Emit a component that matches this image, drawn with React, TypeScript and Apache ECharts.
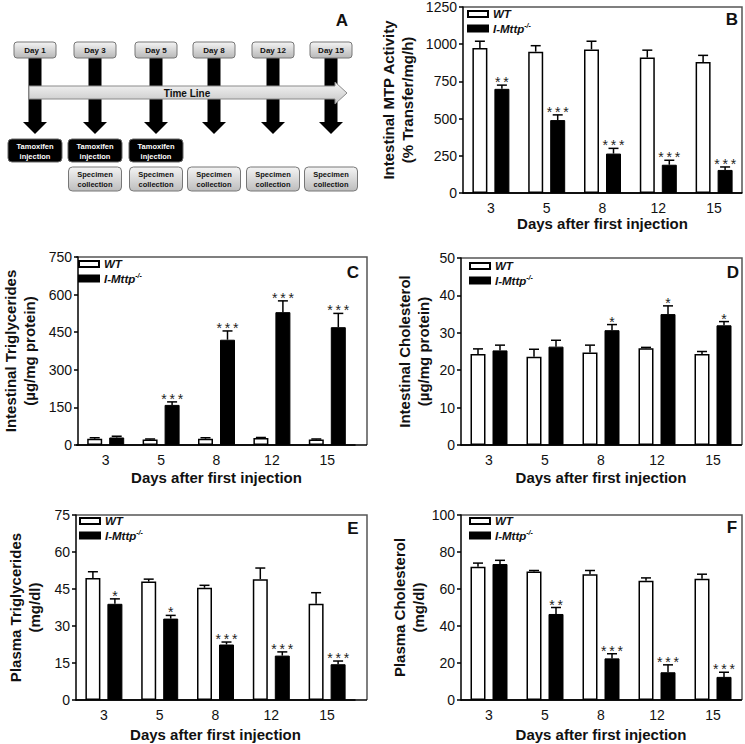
import React, { useEffect, useRef } from 'react';
import * as echarts from 'echarts';

// ---------- data ----------
const days = ['3', '5', '8', '12', '15'];
const legendNames = ['WT', 'I-Mttp'];

// B: Intestinal MTP activity
const mtpWT = [975, 950, 965, 910, 880];
const mtpWTErr = [45, 40, 55, 50, 45];
const mtpKO = [700, 490, 265, 190, 155];
const mtpKOErr = [25, 35, 35, 30, 20];
const mtpStars = ['**', '***', '***', '***', '***'];

// C: Intestinal triglycerides
const itgWT = [25, 22, 25, 28, 22];
const itgWTErr = [4, 2, 4, 2, 2];
const itgKO = [30, 160, 420, 530, 470];
const itgKOErr = [5, 12, 35, 45, 55];
const itgStars = ['', '***', '***', '***', '***'];

// D: Intestinal cholesterol
const icWT = [24.3, 23.6, 24.7, 25.9, 24.3];
const icWTErr = [1.4, 2.0, 2.0, 0.2, 0.7];
const icKO = [25.3, 26.3, 30.7, 35, 32];
const icKOErr = [1.4, 1.7, 1.5, 2.2, 1.0];
const icStars = ['', '', '*', '*', '*'];

// E: Plasma triglycerides
const ptgWT = [49.5, 48, 45.5, 49, 39];
const ptgWTErr = [2.5, 1, 1, 4.5, 4.5];
const ptgKO = [39, 33, 22.5, 18, 14.5];
const ptgKOErr = [2, 1.3, 1, 1.5, 1.3];
const ptgStars = ['*', '*', '***', '***', '***'];

// F: Plasma cholesterol
const pcWT = [72, 69.5, 68, 64.5, 65.5];
const pcWTErr = [2, 0.5, 2, 1.5, 2.5];
const pcKO = [73.5, 46.5, 22.5, 15, 12.5];
const pcKOErr = [2, 3.5, 2.5, 4, 2.5];
const pcStars = ['', '**', '***', '***', '***'];

// Panel A timeline
const timelineDays = ['Day 1', 'Day 3', 'Day 5', 'Day 8', 'Day 12', 'Day 15'];
const injectionDays = ['Day 1', 'Day 3', 'Day 5'];
const collectionDays = ['Day 3', 'Day 5', 'Day 8', 'Day 12', 'Day 15'];

const FONT = '"Liberation Sans", Arial, Helvetica, sans-serif';

type Panel = {
  letter: string;
  grid: { left: number; top: number; width: number; height: number };
  frameRight: number;
  max: number;
  interval: number;
  yName: string;
  nameGap: number;
  xNameGap: number;
  wt: number[];
  wtErr: number[];
  ko: number[];
  koErr: number[];
  stars: string[];
  legend: { left: number; top: number };
  letterPos: [number, number];
};

const panels: Panel[] = [
  {
    letter: 'B', grid: { left: 463, top: 7, width: 279, height: 186 }, frameRight: 742,
    max: 1250, interval: 250, yName: 'Intestinal MTP Activity\n(% Transfer/mg/h)', nameGap: 46, xNameGap: 23,
    wt: mtpWT, wtErr: mtpWTErr, ko: mtpKO, koErr: mtpKOErr, stars: mtpStars,
    legend: { left: 467, top: 8 }, letterPos: [732, 19],
  },
  {
    letter: 'C', grid: { left: 76, top: 257, width: 279, height: 188 }, frameRight: 367,
    max: 750, interval: 150, yName: 'Intestinal Triglycerides\n(µg/mg protein)', nameGap: 39, xNameGap: 25,
    wt: itgWT, wtErr: itgWTErr, ko: itgKO, koErr: itgKOErr, stars: itgStars,
    legend: { left: 78, top: 258 }, letterPos: [353, 272],
  },
  {
    letter: 'D', grid: { left: 461, top: 258, width: 280, height: 187 }, frameRight: 742,
    max: 50, interval: 10, yName: 'Intestinal Cholesterol\n(µg/mg protein)', nameGap: 28, xNameGap: 25,
    wt: icWT, wtErr: icWTErr, ko: icKO, koErr: icKOErr, stars: icStars,
    legend: { left: 469, top: 260 }, letterPos: [733, 272],
  },
  {
    letter: 'E', grid: { left: 76, top: 515, width: 279, height: 185 }, frameRight: 367,
    max: 75, interval: 15, yName: 'Plasma Triglycerides\n(mg/dl)', nameGap: 32, xNameGap: 27,
    wt: ptgWT, wtErr: ptgWTErr, ko: ptgKO, koErr: ptgKOErr, stars: ptgStars,
    legend: { left: 79, top: 515 }, letterPos: [353, 528],
  },
  {
    letter: 'F', grid: { left: 461, top: 515, width: 280, height: 185 }, frameRight: 742,
    max: 100, interval: 20, yName: 'Plasma Cholesterol\n(mg/dl)', nameGap: 29, xNameGap: 27,
    wt: pcWT, wtErr: pcWTErr, ko: pcKO, koErr: pcKOErr, stars: pcStars,
    legend: { left: 469, top: 515 }, letterPos: [732, 527],
  },
];

const BAR_W = 15;
const BAR_GAP = 7;
const OFFSET = (BAR_W + BAR_GAP) / 2;

function errSeries(gi: number, vals: number[], errs: number[], offset: number, stars?: string[]) {
  return {
    type: 'custom',
    name: 'err' + gi + (stars ? 'k' : 'w'),
    xAxisIndex: gi,
    yAxisIndex: gi,
    z: 5,
    silent: true,
    data: vals.map((v, i) => [i, v, errs[i]]),
    renderItem: (params: any, api: any) => {
      const i = api.value(0);
      const v = api.value(1);
      const e = api.value(2);
      const p0 = api.coord([i, v]);
      const p1 = api.coord([i, v + e]);
      const x = p0[0] + offset;
      const children: any[] = [
        { type: 'line', shape: { x1: x, y1: p0[1], x2: x, y2: p1[1] }, style: { stroke: '#000', lineWidth: 1.5 } },
        { type: 'line', shape: { x1: x - 5, y1: p1[1], x2: x + 5, y2: p1[1] }, style: { stroke: '#000', lineWidth: 1.5 } },
      ];
      const s = stars ? stars[params.dataIndex] : '';
      if (s) {
        children.push({
          type: 'text',
          x,
          y: p1[1] + 4,
          style: {
            text: s.split('').join('\u2009'),
            align: 'center',
            verticalAlign: 'bottom',
            fontSize: 14,
            fontFamily: FONT,
            fill: '#222',
          },
        });
      }
      return { type: 'group', children };
    },
  };
}

function buildOption() {
  const grid: any[] = [];
  const xAxis: any[] = [];
  const yAxis: any[] = [];
  const series: any[] = [];
  const legend: any[] = [];
  const graphic: any[] = [];

  panels.forEach((p, gi) => {
    grid.push({ ...p.grid, containLabel: false });
    xAxis.push({
      type: 'category',
      gridIndex: gi,
      data: days,
      axisLine: { show: true, lineStyle: { color: '#000', width: 1.5 } },
      axisTick: { show: false },
      axisLabel: { fontSize: 14, color: '#111', fontFamily: FONT, margin: 8 },
      name: 'Days after first injection',
      nameLocation: 'middle',
      nameGap: p.xNameGap,
      nameTextStyle: { fontSize: 15, fontWeight: 'bold', color: '#111', fontFamily: FONT },
    });
    yAxis.push({
      type: 'value',
      gridIndex: gi,
      min: 0,
      max: p.max,
      interval: p.interval,
      splitLine: { show: false },
      axisLine: { show: true, lineStyle: { color: '#000', width: 1.5 } },
      axisTick: { show: true, length: 4, lineStyle: { color: '#000', width: 1.5 } },
      axisLabel: { fontSize: 14, color: '#111', fontFamily: FONT, margin: 6, formatter: (v: number) => String(v) },
      name: p.yName,
      nameLocation: 'middle',
      nameGap: p.nameGap,
      nameTextStyle: { fontSize: 15, fontWeight: 'bold', color: '#111', fontFamily: FONT, lineHeight: 19 },
    });
    series.push({
      type: 'bar',
      name: 'WT',
      xAxisIndex: gi,
      yAxisIndex: gi,
      data: p.wt,
      barWidth: BAR_W,
      barGap: (BAR_GAP / BAR_W) * 100 + '%',
      itemStyle: { color: '#fff', borderColor: '#000', borderWidth: 1.5 },
      silent: true,
    });
    series.push({
      type: 'bar',
      name: 'I-Mttp',
      xAxisIndex: gi,
      yAxisIndex: gi,
      data: p.ko,
      barWidth: BAR_W,
      barGap: (BAR_GAP / BAR_W) * 100 + '%',
      itemStyle: { color: '#000', borderColor: '#000', borderWidth: 1 },
      silent: true,
    });
    series.push(errSeries(gi, p.wt, p.wtErr, -OFFSET));
    series.push(errSeries(gi, p.ko, p.koErr, OFFSET, p.stars));

    legend.push({
      data: legendNames,
      left: p.legend.left,
      top: p.legend.top,
      orient: 'vertical',
      itemWidth: 20,
      itemHeight: 6,
      itemGap: 2,
      selectedMode: false,
      icon: 'rect',
      padding: 0,
      formatter: (name: string) => (name === 'WT' ? '{t|WT}' : '{t|I-Mttp}{s|-/-}'),
      textStyle: {
        fontFamily: FONT,
        rich: {
          t: { fontSize: 11.5, fontStyle: 'italic', fontWeight: 'bold', color: '#111', lineHeight: 13, fontFamily: FONT },
          s: { fontSize: 7, fontStyle: 'italic', fontWeight: 'bold', color: '#111', lineHeight: 13, verticalAlign: 'top', fontFamily: FONT },
        },
      },
    });

    const top = p.grid.top;
    const bottom = p.grid.top + p.grid.height;
    const left = p.grid.left;
    graphic.push({
      type: 'polyline',
      silent: true,
      shape: { points: [[left, top], [p.frameRight, top], [p.frameRight, bottom]] },
      style: { stroke: '#555', lineWidth: 1.5, fill: null },
    });
    graphic.push({
      type: 'line',
      silent: true,
      shape: { x1: left, y1: bottom, x2: p.frameRight, y2: bottom },
      style: { stroke: '#000', lineWidth: 1.5 },
    });
    graphic.push({
      type: 'text',
      silent: true,
      x: p.letterPos[0],
      y: p.letterPos[1],
      style: { text: p.letter, fontSize: 17, fontWeight: 'bold', fontFamily: FONT, fill: '#111', align: 'center', verticalAlign: 'middle' },
    });
  });

  // ---------- Panel A : timeline ----------
  const centers = [35, 95, 156, 214, 273, 331];
  const grayGrad = (c1: string, c2: string) =>
    new echarts.graphic.LinearGradient(0, 0, 0, 1, [
      { offset: 0, color: c1 },
      { offset: 1, color: c2 },
    ]);

  graphic.push({
    type: 'text', silent: true, x: 342, y: 20,
    style: { text: 'A', fontSize: 17, fontWeight: 'bold', fontFamily: FONT, fill: '#111', align: 'center', verticalAlign: 'middle' },
  });

  timelineDays.forEach((d, i) => {
    const c = centers[i];
    graphic.push({ type: 'rect', silent: true, shape: { x: c - 6.5, y: 58, width: 13, height: 65 }, style: { fill: '#000' } });
    graphic.push({ type: 'polygon', silent: true, shape: { points: [[c - 12, 122], [c + 12, 122], [c, 134]] }, style: { fill: '#000' } });
    graphic.push({
      type: 'rect', silent: true, shape: { x: c - 21, y: 42, width: 42, height: 16, r: 3 },
      style: { fill: grayGrad('#f4f4f4', '#b8b8b8'), stroke: '#777', lineWidth: 1 },
    });
    graphic.push({
      type: 'text', silent: true, x: c, y: 50,
      style: { text: d, fontSize: 8, fontWeight: 'bold', fontFamily: FONT, fill: '#111', align: 'center', verticalAlign: 'middle' },
    });
  });

  graphic.push({
    type: 'polygon', silent: true, z: 10,
    shape: { points: [[29, 86], [335, 86], [335, 82], [347, 93], [335, 104], [335, 99], [29, 99]] },
    style: { fill: grayGrad('#f6f6f6', '#c6c6c6'), stroke: '#8a8a8a', lineWidth: 1 },
  });
  graphic.push({
    type: 'text', silent: true, z: 11, x: 187, y: 93,
    style: { text: 'Time Line', fontSize: 10, fontWeight: 'bold', fontFamily: FONT, fill: '#111', align: 'center', verticalAlign: 'middle' },
  });

  injectionDays.forEach((d) => {
    const c = centers[timelineDays.indexOf(d)];
    graphic.push({
      type: 'rect', silent: true, shape: { x: c - 27, y: 139, width: 54, height: 23, r: 4 },
      style: { fill: '#000', stroke: '#666', lineWidth: 1 },
    });
    graphic.push({
      type: 'text', silent: true, x: c, y: 151,
      style: { text: 'Tamoxifen\ninjection', fontSize: 7.5, fontWeight: 'bold', fontFamily: FONT, fill: '#fff', align: 'center', verticalAlign: 'middle', lineHeight: 10 },
    });
  });

  collectionDays.forEach((d) => {
    const c = centers[timelineDays.indexOf(d)];
    graphic.push({
      type: 'rect', silent: true, shape: { x: c - 26.5, y: 167, width: 53, height: 24, r: 4 },
      style: { fill: grayGrad('#f4f4f4', '#bdbdbd'), stroke: '#777', lineWidth: 1 },
    });
    graphic.push({
      type: 'text', silent: true, x: c, y: 179,
      style: { text: 'Specimen\ncollection', fontSize: 7.5, fontWeight: 'bold', fontFamily: FONT, fill: '#111', align: 'center', verticalAlign: 'middle', lineHeight: 10 },
    });
  });

  return {
    animation: false,
    backgroundColor: '#fff',
    textStyle: { fontFamily: FONT },
    grid,
    xAxis,
    yAxis,
    legend,
    series,
    graphic,
  };
}

export default function App() {
  const ref = useRef<HTMLDivElement>(null);
  useEffect(() => {
    if (!ref.current) return;
    const chart = echarts.init(ref.current, undefined, { renderer: 'svg' });
    chart.setOption(buildOption() as any);
    return () => chart.dispose();
  }, []);
  return <div ref={ref} style={{ position: 'absolute', left: 0, top: 0, width: 745, height: 744 }} />;
}
